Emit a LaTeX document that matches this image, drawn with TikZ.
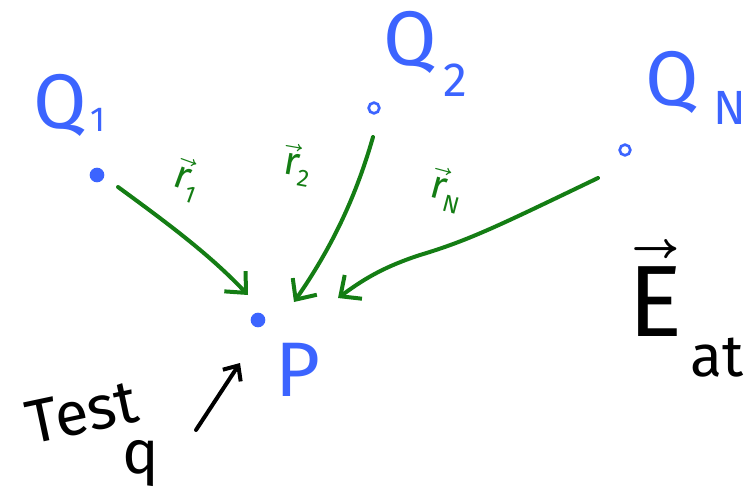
\documentclass[tikz,border=0pt]{standalone}
\usepackage{fontspec}
\usepackage{unicode-math}
\setmainfont{Fira Sans}
\setmathfont{Latin Modern Math}
\usetikzlibrary{arrows.meta}
\definecolor{qblue}{RGB}{60,100,255}
\definecolor{rgreen}{RGB}{20,125,20}
\begin{document}
\begin{tikzpicture}[x=0.75pt,y=-0.75pt,
  qlabel/.style={text=qblue,font=\fontsize{58}{62}\selectfont,inner sep=0pt},
  qsub/.style={text=qblue,font=\fontsize{36}{40}\selectfont,inner sep=0pt},
  rlabel/.style={text=rgreen,font=\fontsize{30}{34}\selectfont,inner sep=0pt},
  charge/.style={circle,draw=qblue,line width=2pt,inner sep=0pt,minimum size=8pt},
  fcharge/.style={circle,fill=qblue,inner sep=0pt,minimum size=11pt},
  vec/.style={draw=rgreen,line width=3pt,line cap=round,-{Straight Barb[length=12pt,width=22pt,line width=3pt]}},
  blk/.style={text=black,font=\fontsize{46}{50}\selectfont,inner sep=0pt}]
\useasboundingbox (0,0) rectangle (753,493);
\clip (0,0) rectangle (753,493);
% charges
\node[fcharge] (c1) at (97,175) {};
\node[charge] (c2) at (374,108) {};
\node[charge] (cN) at (625,150) {};
\node[fcharge] (p) at (258,320) {};
% labels
\node[qlabel] (q1) at (60,105) {Q};
\node[qsub,font=\fontsize{26}{30}\selectfont] (q1s) at (98,120) {1};
\node[qlabel] (q2) at (410,42) {Q};
\node[qsub] (q2s) at (455,80) {2};
\node[qlabel] (qN) at (672,82) {Q};
\node[qsub] (qNs) at (730,108) {N};
\node[text=qblue,font=\fontsize{58}{62}\selectfont,inner sep=0pt] (plab) at (298,370) {P};
% vector start/end points
\coordinate (s1) at (118,187);
\coordinate (e1) at (248,295);
\coordinate (s2) at (373,137);
\coordinate (e2) at (294,302);
\coordinate (sN) at (598,178);
\coordinate (eN) at (338,298);
\draw[vec] (s1) .. controls (170,225) and (210,255) .. (e1);
\draw[vec] (s2) .. controls (355,200) and (330,250) .. (e2);
\draw[vec] (sN) .. controls (500,225) and (470,240) .. (420,255) .. controls (380,268) and (360,282) .. (eN);
\node[rlabel,rotate=-20] (r1) at (188,180) {$\vec{\hbox{r}}_{\hbox{\fontsize{18}{20}\selectfont 1}}$};
\node[rlabel,rotate=-10] (r2) at (298,165) {$\vec{\hbox{r}}_{\hbox{\fontsize{18}{20}\selectfont 2}}$};
\node[rlabel,rotate=-15] (rN) at (447,190) {$\vec{\hbox{r}}_{\hbox{\fontsize{18}{20}\selectfont N}}$};
% test charge
\node[blk,rotate=12] (test) at (82,412) {Test};
\node[blk] (q) at (141,463) {q};
\coordinate (ta) at (196,430);
\coordinate (tb) at (240,363);
\draw[line width=3pt,line cap=round,-{Straight Barb[length=9pt,width=16pt,line width=3pt]}] (ta) -- (tb);
% field
\node[font=\fontsize{76}{80}\selectfont,inner sep=0pt] (E) at (656,288) {$\vec{\hbox{E}}$};
\node[font=\fontsize{44}{48}\selectfont,anchor=west,inner sep=0pt] (at) at (690,358) {at};
\end{tikzpicture}
\end{document}
